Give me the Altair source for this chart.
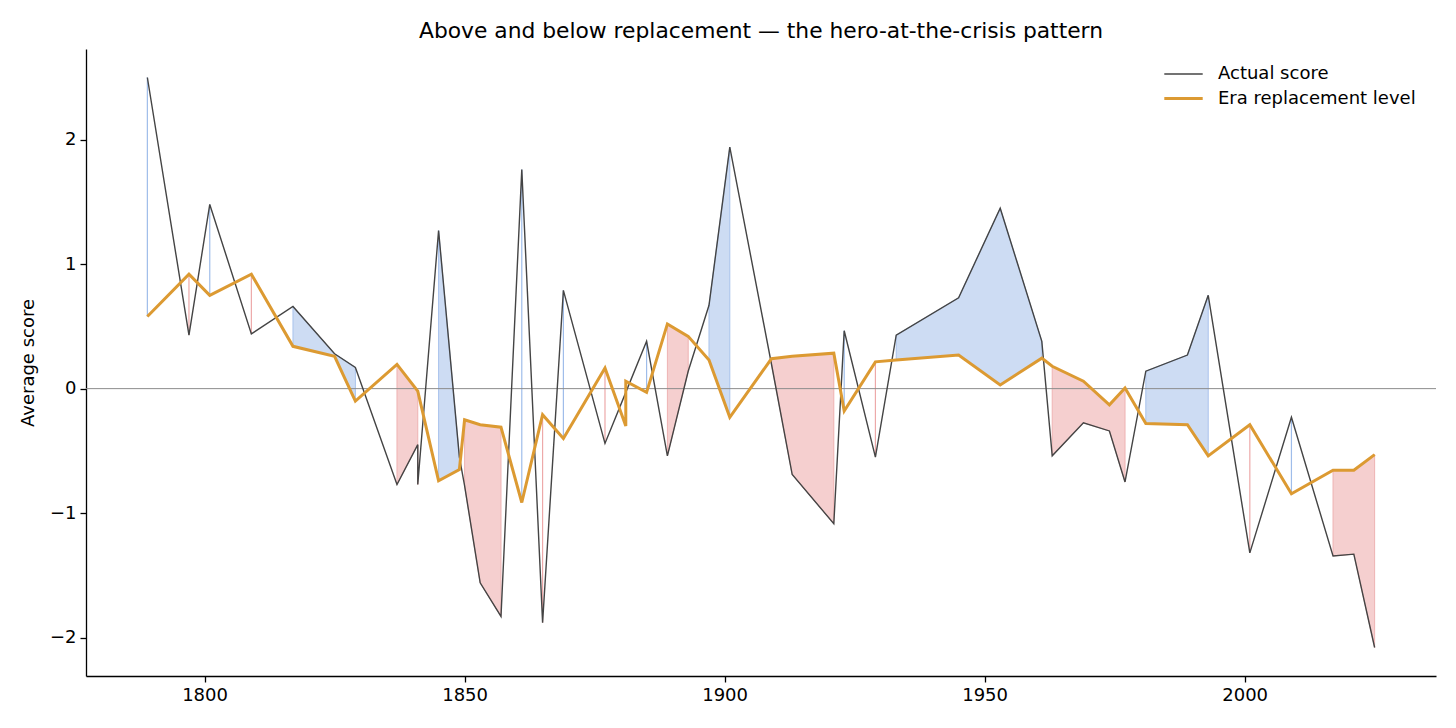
import altair as alt
import pandas as pd

# ---- data ----
years = [1789, 1797, 1801, 1809, 1817, 1825, 1829, 1837, 1841, 1841, 1845, 1849, 1850,
         1853, 1857, 1861, 1865, 1869, 1877, 1881, 1881, 1885, 1889, 1893, 1897, 1901,
         1909, 1913, 1921, 1923, 1929, 1933, 1945, 1953, 1961, 1963, 1969, 1974, 1977,
         1981, 1989, 1993, 2001, 2009, 2017, 2021, 2025]
actual = [2.50, 0.43, 1.48, 0.44, 0.66, 0.28, 0.17, -0.77, -0.45, -0.77, 1.27, -0.55, -0.78,
          -1.56, -1.83, 1.76, -1.88, 0.79, -0.44, -0.03, -0.03, 0.38, -0.54, 0.14, 0.67, 1.94,
          0.20, -0.69, -1.085, 0.465, -0.55, 0.43, 0.73, 1.45, 0.38, -0.54, -0.275, -0.34, -0.75,
          0.14, 0.27, 0.75, -1.32, -0.23, -1.345, -1.33, -2.08]
replacement = [0.58, 0.92, 0.75, 0.92, 0.34, 0.26, -0.10, 0.195, -0.02, -0.02, -0.74, -0.65, -0.25,
               -0.29, -0.31, -0.915, -0.21, -0.40, 0.165, -0.30, 0.06, -0.03, 0.52, 0.42, 0.23, -0.23,
               0.24, 0.26, 0.285, -0.18, 0.215, 0.23, 0.27, 0.03, 0.245, 0.18, 0.06, -0.13, 0.005,
               -0.28, -0.29, -0.54, -0.29, -0.845, -0.655, -0.655, -0.53]
x_ticks = [1800, 1850, 1900, 1950, 2000]
y_ticks = [-2, -1, 0, 1, 2]
series_names = ["Actual score", "Era replacement level"]
TITLE = "Above and below replacement \u2014 the hero-at-the-crisis pattern"

# ---- styles ----
FONT = "DejaVu Sans"
BLUE_FILL, BLUE_EDGE = "#cddcf3", "#a9c3ec"
RED_FILL, RED_EDGE = "#f5cfcf", "#eeb3b3"
BLUE_RULE, RED_RULE = "#9fbdea", "#eda9a9"
LINE_COLORS = ["#444444", "#dc9a32"]
LINE_WIDTHS = [1.4, 3.0]

n = len(years)
base = pd.DataFrame({"idx": list(range(n)), "year": years,
                     "actual": actual, "repl": replacement})
base["above"] = base["actual"] >= base["repl"]
run_ids = []
r = 0
for i in range(n):
    if i > 0 and base["above"][i] != base["above"][i - 1]:
        r += 1
    run_ids.append(r)
base["run"] = run_ids
base["multi"] = base.groupby("run")["idx"].transform("count") > 1

lines = pd.concat([
    pd.DataFrame({"idx": base["idx"], "year": base["year"], "value": base["actual"],
                  "series": series_names[0]}),
    pd.DataFrame({"idx": base["idx"], "year": base["year"], "value": base["repl"],
                  "series": series_names[1]}),
], ignore_index=True)

xs = alt.Scale(domain=[1777.2, 2036.8], nice=False, zero=False)
ys = alt.Scale(domain=[-2.309, 2.729], nice=False, zero=False)
x_axis = alt.Axis(values=x_ticks, format="d", grid=False)
y_axis = alt.Axis(values=y_ticks, format="d", grid=False)


def X():
    return alt.X("year:Q", scale=xs, axis=x_axis, title=None)


def Y(field):
    return alt.Y(field, scale=ys, axis=y_axis, title="Average score")


def area_layer(df, fill, edge):
    return alt.Chart(df).mark_area(fill=fill, stroke=edge, strokeWidth=1, opacity=1).encode(
        x=X(), y=Y("actual:Q"), y2="repl:Q", detail="run:N")


def rule_layer(df, edge):
    return alt.Chart(df).mark_rule(color=edge, strokeWidth=1.2).encode(
        x=X(), y=Y("actual:Q"), y2="repl:Q")


blue_multi = base[base["above"] & base["multi"]]
red_multi = base[(~base["above"]) & base["multi"]]
blue_single = base[base["above"] & (~base["multi"])]
red_single = base[(~base["above"]) & (~base["multi"])]

zero = alt.Chart(pd.DataFrame({"y": [0]})).mark_rule(color="#8c8c8c", strokeWidth=1).encode(
    y=Y("y:Q"))

legend = alt.Legend(
    title=None, orient="none", legendX=1084, legendY=12, padding=0,
    labelFontSize=18, labelFont=FONT, labelColor="black", labelLimit=500,
    symbolType="M-1.6,0H1.6", symbolSize=576, symbolFillColor="transparent",
    rowPadding=2, labelOffset=21)

line_layer = alt.Chart(lines).mark_line(strokeJoin="miter").encode(
    x=X(),
    y=Y("value:Q"),
    color=alt.Color("series:N", scale=alt.Scale(domain=series_names, range=LINE_COLORS),
                    legend=legend),
    strokeWidth=alt.StrokeWidth("series:N",
                                scale=alt.Scale(type="ordinal", domain=series_names,
                                                range=LINE_WIDTHS),
                                legend=legend),
    order=alt.Order("idx:Q"),
)

chart = alt.layer(
    area_layer(blue_multi, BLUE_FILL, BLUE_EDGE),
    area_layer(red_multi, RED_FILL, RED_EDGE),
    rule_layer(blue_single, BLUE_RULE),
    rule_layer(red_single, RED_RULE),
    zero,
    line_layer,
).properties(
    width=1350, height=627, background="white",
    padding={"left": 11, "top": 13, "right": 5, "bottom": 5},
    title=alt.TitleParams(TITLE, fontSize=21.8, font=FONT, fontWeight="normal", color="black",
                          offset=6, anchor="middle", frame="group"),
).configure_view(stroke=None).configure_axis(
    domainColor="black", domainWidth=1.3, tickColor="black", tickWidth=1.3, tickSize=6,
    labelFont=FONT, labelFontSize=18, labelColor="black", labelPadding=4,
    titleFont=FONT, titleFontSize=18, titleFontWeight="normal", titleColor="black",
    titlePadding=12,
)

chart.save("out.html", embed_options={"renderer": "svg", "actions": False})
